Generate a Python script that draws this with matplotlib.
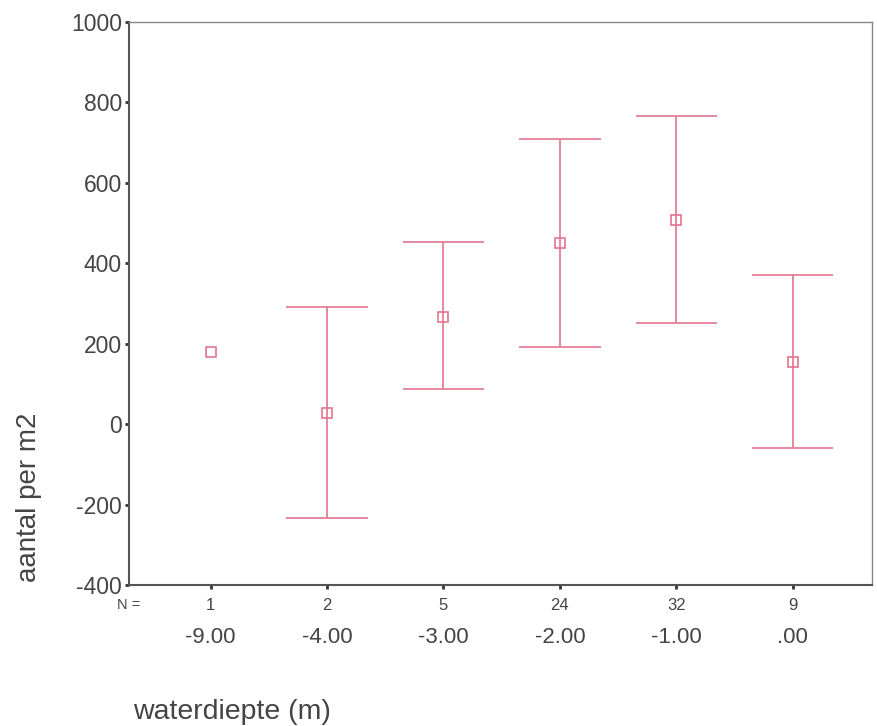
import numpy as np
import matplotlib.pyplot as plt
from matplotlib.transforms import blended_transform_factory

plt.rcParams['font.family'] = ['Liberation Sans', 'DejaVu Sans']
plt.rcParams['axes.unicode_minus'] = False

# waterdepth groups, group sizes, means and error bar limits
depth_labels = ['-9.00', '-4.00', '-3.00', '-2.00', '-1.00', '.00']
n_counts = [1, 2, 5, 24, 32, 9]
means = [180, 27, 266, 450, 507, 154]
lower = [np.nan, -234, 87, 192, 251, -60]
upper = [np.nan, 291, 453, 709, 766, 371]

pink = '#e0758f'
text_col = '#444444'
axis_col = '#555555'

fig = plt.figure(figsize=(8.78, 7.26), dpi=100, facecolor='white')
ax = fig.add_axes([0.147, 0.194, 0.846, 0.776])

x = np.arange(len(depth_labels))
cap = 0.35
for xi, lo, hi in zip(x, lower, upper):
    if np.isnan(lo):
        continue
    ax.vlines(xi, lo, hi, color=pink, lw=1.2)
    ax.hlines([lo, hi], xi - cap, xi + cap, color=pink, lw=1.2)
ax.plot(x, means, linestyle='none', marker='s', markersize=7.5,
        markerfacecolor='none', markeredgecolor=pink, markeredgewidth=1.2)

ax.set_xlim(-0.7, 5.68)
ax.set_ylim(-400, 1000)
ax.set_yticks(np.arange(-400, 1001, 200))
ax.set_xticks(x)
ax.set_xticklabels([])

for side in ('left', 'bottom'):
    ax.spines[side].set_color(axis_col)
    ax.spines[side].set_linewidth(1.5)
for side in ('top', 'right'):
    ax.spines[side].set_color('#888888')
    ax.spines[side].set_linewidth(1.0)

ax.tick_params(axis='y', direction='out', length=3, width=2, color='#333333',
               labelsize=16.5, labelcolor=text_col, pad=2)
ax.tick_params(axis='x', direction='out', length=3, width=2, color='#333333')

# group sizes and depth labels under the axis
trans = blended_transform_factory(ax.transData, ax.transAxes)
ax.text(-0.7, -0.036, 'N =', transform=trans, ha='center', va='center',
        fontsize=10.5, color=text_col)
for xi, n, lab in zip(x, n_counts, depth_labels):
    ax.text(xi, -0.036, str(n), transform=trans, ha='center', va='center',
            fontsize=12, color=text_col)
    ax.text(xi, -0.093, lab, transform=trans, ha='center', va='center',
            fontsize=16, color=text_col)

fig.text(0.151, 0.019, 'waterdiepte (m)', ha='left', va='center',
         fontsize=20.5, color=text_col)
fig.text(0.033, 0.315, 'aantal per m2', ha='center', va='center',
         rotation=90, fontsize=20, color=text_col)

fig.savefig('out.png', dpi=100, facecolor='white')
